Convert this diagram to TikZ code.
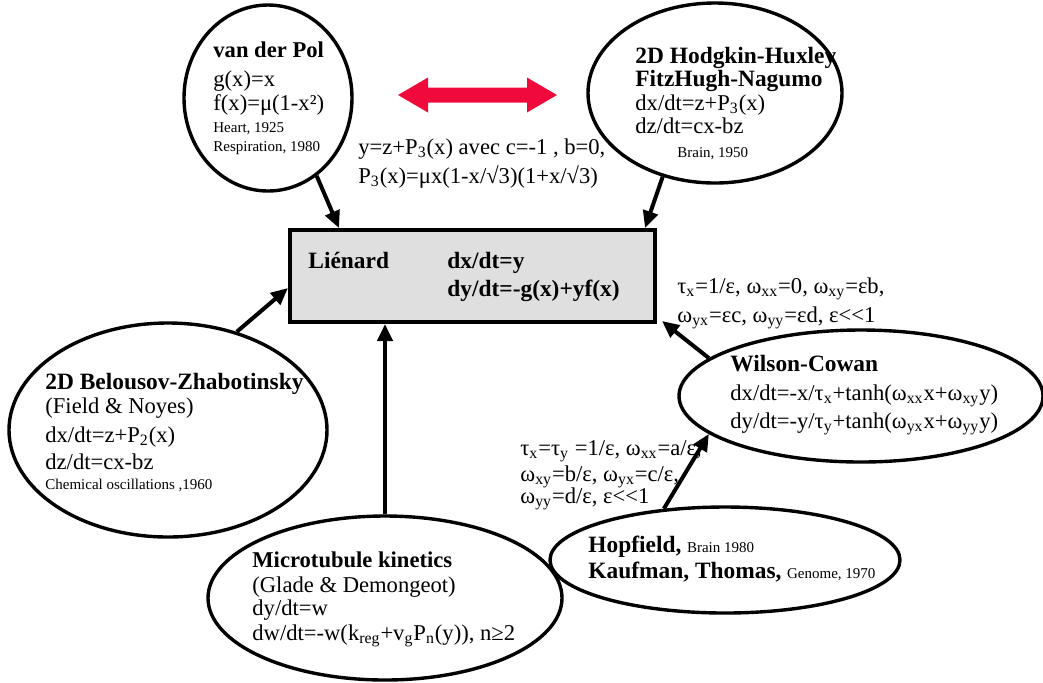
\documentclass[tikz,border=0pt]{standalone}
\usepackage{fontspec}
\setmainfont{Liberation Serif}
\usetikzlibrary{shapes.geometric,arrows.meta}
\definecolor{arrowred}{RGB}{240,10,60}
\newcommand{\lines}[1]{\begin{tabular}[t]{@{}l@{}}#1\end{tabular}}
\newcommand{\sml}{\fontsize{7.5}{9}\selectfont}
\newcommand{\ttl}[1]{{\fontsize{11.7}{12.5}\selectfont\bfseries #1}}
\tikzset{
 model/.style={draw, ellipse, line width=1.7pt, inner sep=0pt},
 eqs/.style={anchor=base west, inner sep=0pt, font=\fontsize{11.3}{12.5}\selectfont},
 link/.style={line width=2pt, -{Triangle[length=8.5pt,width=7.5pt]}},
}

\begin{document}
\begin{tikzpicture}[x=0.5pt,y=-0.5pt]
    \useasboundingbox (0,0) rectangle (1043,682);
    % the models
    \node[model, minimum width=84pt, minimum height=93pt] (vdp) at (268,98) {};
    \node[model, minimum width=127pt, minimum height=90pt] (hh) at (715,93) {};
    \node[model, minimum width=159pt, minimum height=107pt] (bz) at (168,430) {};
    \node[model, minimum width=177pt, minimum height=82pt] (micro) at (385,598) {};
    \node[model, minimum width=182pt, minimum height=66pt] (wc) at (861,396) {};
    \node[model, minimum width=175pt, minimum height=53pt] (hopf) at (725,560) {};
    \node[draw, line width=2pt, fill=gray!25, minimum width=182.5pt, minimum height=46pt] (lien) at (472.5,276) {};
    \fill[arrowred] (398,95) -- (428,77.5) -- (428,87.5) -- (527,87.5) -- (527,77.5) -- (557,95)
        -- (527,112.5) -- (527,102.5) -- (428,102.5) -- (428,112.5) -- cycle;
    % texts
    \node[eqs] (vdptxt) at (213,57) {\lines{\textbf{van der Pol}\\[2pt] g(x)=x\\[-0.5pt] f(x)=μ(1-x²)\\[-1.5pt] {\sml Heart, 1925}\\[-3pt] {\sml Respiration, 1980}}};
    \node[eqs] (hhtxt) at (635,63) {\lines{\ttl{2D Hodgkin-Huxley}\\[-0.75pt] \ttl{FitzHugh-Nagumo}\\[-0.75pt] dx/dt=z+P\textsubscript{3}(x)\\[-0.75pt] dz/dt=cx-bz\\[-0.75pt] \hspace*{21pt}{\sml Brain, 1950}}};
    \node[eqs] (sub) at (358,154) {\lines{y=z+P\textsubscript{3}(x) avec c=-1 , b=0,\\[2pt] P\textsubscript{3}(x)=μx(1-x/√3)(1+x/√3)}};
    \node[eqs] (lname) at (308,268) {\ttl{Liénard}};
    \node[eqs] (leqs) at (447,268) {\lines{\ttl{dx/dt=y}\\[1.5pt] \ttl{dy/dt=-g(x)+yf(x)}}};
    \node[eqs] (wcpar) at (677,293) {\lines{τ\textsubscript{x}=1/ε, ω\textsubscript{xx}=0, ω\textsubscript{xy}=εb,\\[2pt] ω\textsubscript{yx}=εc, ω\textsubscript{yy}=εd, ε<{}<1}};
    \node[eqs] (wctxt) at (730,371) {\lines{\ttl{Wilson-Cowan}\\[2pt] dx/dt=-x/τ\textsubscript{x}+tanh(ω\textsubscript{xx}x+ω\textsubscript{xy}y)\\[1.5pt] dy/dt=-y/τ\textsubscript{y}+tanh(ω\textsubscript{yx}x+ω\textsubscript{yy}y)}};
    \node[eqs] (bztxt) at (45,389) {\lines{\ttl{2D Belousov-Zhabotinsky}\\[-0.5pt] (Field \& Noyes)\\[2pt] dx/dt=z+P\textsubscript{2}(x)\\[1pt] dz/dt=cx-bz\\[-2.5pt] {\sml Chemical oscillations ,1960}}};
    \node[eqs] (hpar) at (520,455) {\lines{τ\textsubscript{x}=τ\textsubscript{y} =1/ε, ω\textsubscript{xx}=a/ε,\\[0.5pt] ω\textsubscript{xy}=b/ε, ω\textsubscript{yx}=c/ε,\\[-1.5pt] ω\textsubscript{yy}=d/ε, ε<{}<1}};
    \node[eqs] (hopftxt) at (588,552) {\lines{\ttl{Hopfield,} {\sml Brain 1980}\\[0.5pt] \ttl{Kaufman, Thomas,} {\sml Genome, 1970}}};
    \node[eqs] (microtxt) at (252,567) {\lines{\textbf{Microtubule kinetics}\\ (Glade \& Demongeot)\\[-1pt] dy/dt=w\\ dw/dt=-w(k\textsubscript{reg}+v\textsubscript{g}P\textsubscript{n}(y)), n≥2}};
    % reductions
    \draw[link] (vdp.-58) -- ([xshift=25.5pt]lien.north west);
    \draw[link] (hh.-122) -- ([xshift=-6pt]lien.north east);
    \draw[link] (bz.55) -- ([yshift=-30pt]lien.north west);
    \draw[link] (micro.north) -- (micro.north |- lien.south);
    \draw[link] (wc.166.5) -- ([xshift=2.5pt,yshift=1.5pt]lien.south east);
    \draw[link] (hopf.140) -- (wc.-166);
\end{tikzpicture}
\end{document}
